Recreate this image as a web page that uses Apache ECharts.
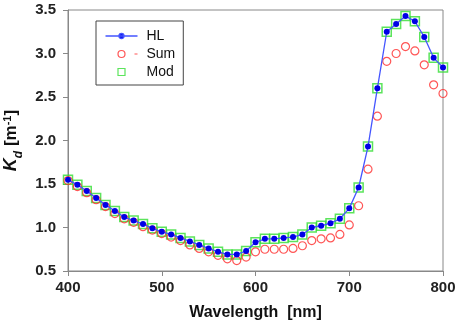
<!DOCTYPE html>
<html>
<head>
<meta charset="utf-8">
<script src="https://cdn.jsdelivr.net/npm/echarts@6/dist/echarts.min.js"></script>
<style>html,body{margin:0;padding:0;background:#fff;}#c{width:459px;height:330px;}</style>
</head>
<body>
<div id="c"></div>
<script>
var wavelengths = [400,410,420,430,440,450,460,470,480,490,500,510,520,530,540,550,560,570,580,590,600,610,620,630,640,650,660,670,680,690,700,710,720,730,740,750,760,770,780,790,800];
var hlValues = [1.55,1.49,1.42,1.34,1.26,1.19,1.12,1.08,1.04,0.99,0.95,0.92,0.88,0.84,0.80,0.76,0.72,0.69,0.69,0.73,0.83,0.87,0.87,0.88,0.89,0.92,1.00,1.02,1.05,1.10,1.22,1.46,1.93,2.60,3.25,3.34,3.43,3.37,3.19,2.95,2.84];
var sumValues = [1.54,1.47,1.40,1.32,1.24,1.16,1.10,1.06,1.01,0.97,0.93,0.89,0.85,0.80,0.76,0.72,0.68,0.64,0.62,0.66,0.72,0.75,0.75,0.75,0.76,0.79,0.85,0.87,0.88,0.92,1.03,1.25,1.67,2.28,2.91,3.00,3.08,3.03,2.87,2.64,2.54];
var modValues = [1.55,1.49,1.42,1.34,1.26,1.19,1.12,1.08,1.04,0.99,0.95,0.92,0.88,0.84,0.80,0.76,0.72,0.69,0.69,0.73,0.83,0.87,0.87,0.88,0.89,0.92,1.00,1.02,1.05,1.10,1.22,1.46,1.93,2.60,3.25,3.34,3.43,3.37,3.19,2.95,2.84];
var xTicks = [400,500,600,700,800];
var yTicks = [0.5,1.0,1.5,2.0,2.5,3.0,3.5];

function pairs(vals){ return wavelengths.map(function(w,i){ return [w, vals[i]]; }); }

var chart = echarts.init(document.getElementById('c'), null, {renderer:'canvas'});
var labelStyle = {fontFamily:'Liberation Sans, Arial, sans-serif', fontWeight:'bold', fontSize:15, color:'#222'};
chart.setOption({
  animation:false,
  backgroundColor:'#fff',
  grid:{left:68, right:16, top:10, bottom:59, show:true, borderColor:'#888', borderWidth:1, containLabel:false, outerBoundsMode:'none'},
  legend:{
    left:96, top:21, width:86, height:66,
    orient:'vertical',
    borderColor:'#444', borderWidth:1,
    padding:[8,8,6,7],
    itemGap:4, itemWidth:32, itemHeight:14,
    textStyle:{fontFamily:'Liberation Sans, Arial, sans-serif', fontSize:14, color:'#111', padding:[0,0,0,4]},
    data:[
      {name:'HL', icon:'path://M0 7L32 7M13.5 7A2.5 2.5 0 1 1 18.5 7A2.5 2.5 0 1 1 13.5 7Z', itemStyle:{color:'#0000e6', borderColor:'#4455ff', borderWidth:1.3}},
      {name:'Sum', icon:'path://M0 7M12.5 7A3.5 3.5 0 1 1 19.5 7A3.5 3.5 0 1 1 12.5 7ZM29 7L32 7M32 7', itemStyle:{color:'none', borderColor:'#ff2a2a', borderWidth:1.2}},
      {name:'Mod', icon:'path://M0 7M12.5 3.5L19.5 3.5L19.5 10.5L12.5 10.5ZM32 7', itemStyle:{color:'none', borderColor:'#33dd33', borderWidth:1.2}}
    ]
  },
  xAxis:{
    type:'value', min:400, max:800, interval:100,
    name:'Wavelength  [nm]', nameLocation:'middle', nameGap:34,
    nameTextStyle:{fontFamily:'Liberation Sans, Arial, sans-serif', fontWeight:'bold', fontSize:16, color:'#111'},
    axisLine:{show:true, lineStyle:{color:'#888'}},
    axisTick:{show:true, inside:false, length:5, lineStyle:{color:'#888'}},
    axisLabel:Object.assign({margin:9}, labelStyle),
    splitLine:{show:false}
  },
  yAxis:{
    type:'value', min:0.5, max:3.5, interval:0.5,
    name:'{k|K}{d|d}{t| [m}{s|-1}{t|]}', nameLocation:'middle', nameGap:43, nameRotate:90,
    nameTextStyle:{
      fontFamily:'Liberation Sans, Arial, sans-serif', fontWeight:'bold', fontSize:17, color:'#111',
      rich:{
        k:{fontStyle:'italic', fontWeight:'bold', fontSize:18, lineHeight:22, fontFamily:'Liberation Sans, Arial, sans-serif', color:'#111'},
        d:{fontStyle:'italic', fontWeight:'bold', fontSize:12, lineHeight:22, verticalAlign:'bottom', fontFamily:'Liberation Sans, Arial, sans-serif', color:'#111', padding:[0,0,-2,0]},
        t:{fontWeight:'bold', fontSize:17, lineHeight:22, fontFamily:'Liberation Sans, Arial, sans-serif', color:'#111'},
        s:{fontWeight:'bold', fontSize:11, lineHeight:22, verticalAlign:'top', fontFamily:'Liberation Sans, Arial, sans-serif', color:'#111', padding:[2,0,0,0]}
      }
    },
    axisLine:{show:true, lineStyle:{color:'#888'}},
    axisTick:{show:true, inside:false, length:5, lineStyle:{color:'#888'}},
    axisLabel:Object.assign({margin:12, formatter:function(v){return v.toFixed(1);}}, labelStyle),
    splitLine:{show:false}
  },
  series:[
    {name:'Mod', type:'scatter', data:pairs(modValues), symbol:'rect', symbolSize:9,
      itemStyle:{color:'none', borderColor:'#33dd33', borderWidth:1.5}, z:2},
    {name:'Sum', type:'scatter', data:pairs(sumValues), symbol:'circle', symbolSize:8,
      itemStyle:{color:'none', borderColor:'#ff2a2a', borderWidth:1.2}, z:3},
    {name:'HL', type:'line', data:pairs(hlValues), symbol:'circle', symbolSize:6,
      lineStyle:{color:'#4455ff', width:1.3}, itemStyle:{color:'#0000e6', borderWidth:0}, z:4}
  ]
});
</script>
</body>
</html>
